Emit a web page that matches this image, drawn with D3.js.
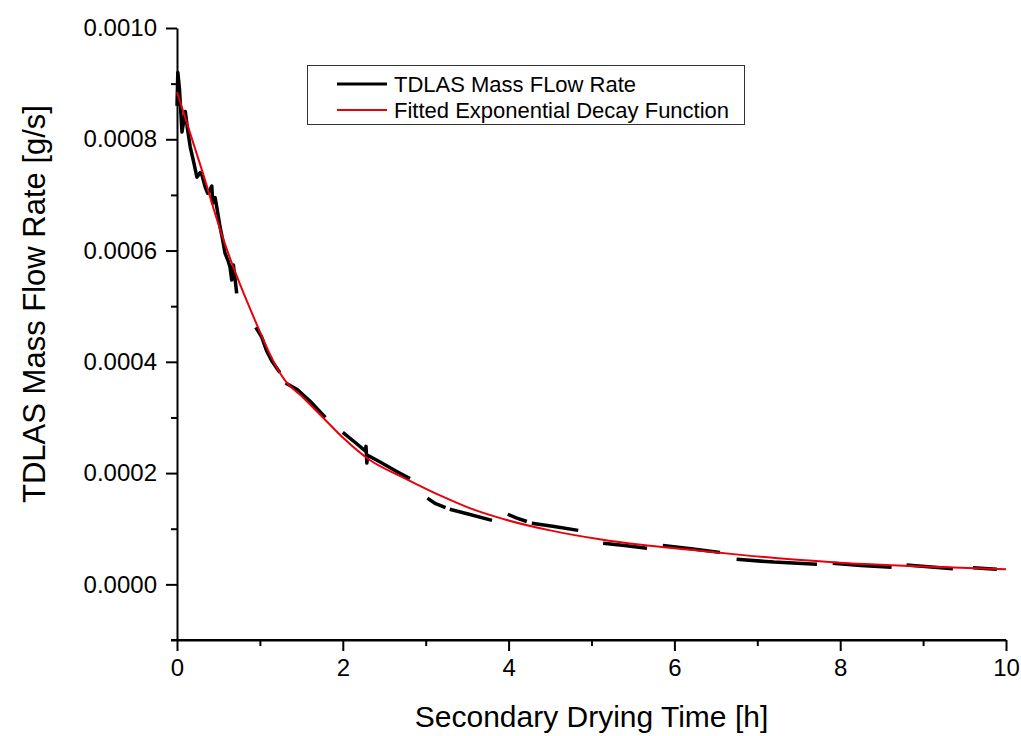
<!DOCTYPE html>
<html>
<head>
<meta charset="utf-8">
<script src="https://cdn.jsdelivr.net/npm/d3@7"></script>
<style>
  html, body { margin: 0; padding: 0; background: #fff; }
  svg { display: block; font-family: "Liberation Sans", Arial, sans-serif; }
</style>
</head>
<body>
<svg id="chart" width="1021" height="736"></svg>
<script>
// Measured TDLAS mass flow rate (h, g/s); null marks a break in the record
const measTime = [
  0.00, 0.01, 0.03, 0.06, 0.10, 0.13, 0.16, 0.20, 0.24, 0.28, 0.30, 0.34, 0.37, 0.40, 0.42, 0.43, 0.46, 0.48, 0.52, 0.55, 0.58, 0.62, 0.64, 0.66, 0.68, 0.70, 0.72,
  null,
  0.95, 1.02, 1.08, 1.15, 1.24,
  null,
  1.31, 1.45, 1.60, 1.79,
  null,
  2.00, 2.15, 2.27, 2.28, 2.29, 2.30, 2.45, 2.65, 2.81,
  null,
  3.02, 3.12, 3.24,
  null,
  3.29, 3.50, 3.80,
  null,
  3.99, 4.10, 4.22,
  null,
  4.28, 4.55, 4.84,
  null,
  5.14, 5.40, 5.67,
  null,
  5.86, 6.20, 6.55,
  null,
  6.75, 7.20, 7.72,
  null,
  7.91, 8.25, 8.62,
  null,
  8.80, 9.10, 9.36,
  null,
  9.60, 9.89
];
const measRate = [
  0.000860, 0.000920, 0.000890, 0.000813, 0.000850, 0.000815, 0.000786, 0.000760, 0.000732, 0.000740, 0.000736, 0.000714, 0.000703, 0.000710, 0.000716, 0.000685, 0.000695, 0.000678, 0.000642, 0.000620, 0.000595, 0.000580, 0.000570, 0.000547, 0.000574, 0.000550, 0.000523,
  null,
  0.000462, 0.000445, 0.000420, 0.000400, 0.000381,
  null,
  0.000362, 0.000350, 0.000330, 0.000300,
  null,
  0.000273, 0.000255, 0.000240, 0.000248, 0.000218, 0.000232, 0.000220, 0.000203, 0.000190,
  null,
  0.000155, 0.000145, 0.000138,
  null,
  0.000135, 0.000127, 0.000115,
  null,
  0.000126, 0.000119, 0.000113,
  null,
  0.000110, 0.000104, 0.000097,
  null,
  0.000074, 0.000070, 0.000065,
  null,
  0.000070, 0.000064, 0.0000575,
  null,
  0.000045, 0.000040, 0.000036,
  null,
  0.0000378, 0.0000340, 0.0000306,
  null,
  0.000035, 0.000031, 0.000028,
  null,
  0.0000300, 0.0000270
];

// Fitted exponential decay curve (h, g/s)
const fitTime = [0, 0.30, 0.55, 0.88, 1.30, 1.52, 1.76, 2.00, 2.33, 2.73, 3.20, 3.53, 3.90, 4.50, 5.10, 5.60, 6.20, 6.80, 7.40, 8.00, 9.00, 10.00];
const fitRate = [0.000885, 0.000745, 0.000624, 0.000496, 0.000367, 0.000336, 0.000300, 0.000264, 0.000223, 0.000192, 0.000158, 0.000137, 0.000119, 0.000097, 0.000081, 0.000071, 0.000062, 0.000053, 0.000045, 0.000039, 0.000032, 0.000027];

// Axis ticks
const xMajorTicks = [0, 2, 4, 6, 8, 10];
const xMinorTicks = [1, 3, 5, 7, 9];
const yMajorTicks = [0, 0.0002, 0.0004, 0.0006, 0.0008, 0.0010];
const yMinorTicks = [-0.0001, 0.0001, 0.0003, 0.0005, 0.0007, 0.0009];

const seriesNames = ["TDLAS Mass FLow Rate", "Fitted Exponential Decay Function"];
const seriesColors = ["#000000", "#e8000b"];

const svg = d3.select("#chart");
const plotLeft = 177, plotRight = 1006, plotTop = 28, plotBottom = 640;

const x = d3.scaleLinear().domain([0, 10]).range([plotLeft, plotRight]);
const y = d3.scaleLinear().domain([-0.0001, 0.0010]).range([plotBottom, plotTop]);

// Minor ticks
svg.append("g")
  .attr("transform", `translate(0,${plotBottom})`)
  .call(d3.axisBottom(x).tickValues(xMinorTicks).tickSize(6).tickFormat(""))
  .call(g => g.select(".domain").remove());
svg.append("g")
  .attr("transform", `translate(${plotLeft},0)`)
  .call(d3.axisLeft(y).tickValues(yMinorTicks).tickSize(6).tickFormat(""))
  .call(g => g.select(".domain").remove());

// Major ticks with labels
const xAxis = svg.append("g")
  .attr("transform", `translate(0,${plotBottom})`)
  .call(d3.axisBottom(x).tickValues(xMajorTicks).tickSize(11).tickPadding(8).tickSizeOuter(0)
    .tickFormat(d3.format("d")));
const yAxis = svg.append("g")
  .attr("transform", `translate(${plotLeft},0)`)
  .call(d3.axisLeft(y).tickValues(yMajorTicks).tickSize(11).tickPadding(9).tickSizeOuter(0)
    .tickFormat(d3.format(".4f")));

svg.selectAll("g line").attr("stroke", "#000").attr("stroke-width", 2);
svg.selectAll("g .domain").attr("stroke", "#000").attr("stroke-width", 2);
[xAxis, yAxis].forEach(g => {
  g.selectAll("text").attr("font-size", 24).attr("fill", "#000")
    .attr("font-family", "'Liberation Sans', Arial, sans-serif");
});

// Extend x axis line to the lowest minor y tick
svg.append("line")
  .attr("x1", plotLeft - 6).attr("x2", plotRight)
  .attr("y1", plotBottom).attr("y2", plotBottom)
  .attr("stroke", "#000").attr("stroke-width", 2);

// Measured series
const measured = measTime.map((t, i) => ({ t, v: measRate[i] }));
const line = d3.line()
  .defined(d => d.t !== null && d.v !== null)
  .x(d => x(d.t)).y(d => y(d.v));

svg.append("path")
  .datum(measured)
  .attr("fill", "none")
  .attr("stroke", seriesColors[0])
  .attr("stroke-width", 3.5)
  .attr("stroke-linejoin", "round")
  .attr("d", line);

// Fitted curve
const fitted = fitTime.map((t, i) => ({ t, v: fitRate[i] }));
svg.append("path")
  .datum(fitted)
  .attr("fill", "none")
  .attr("stroke", seriesColors[1])
  .attr("stroke-width", 2)
  .attr("d", d3.line().x(d => x(d.t)).y(d => y(d.v)).curve(d3.curveMonotoneX));

// Legend
const legend = svg.append("g");
legend.append("rect")
  .attr("x", 307.5).attr("y", 65.5).attr("width", 437).attr("height", 59)
  .attr("fill", "#fff").attr("stroke", "#333").attr("stroke-width", 1);
seriesNames.forEach((name, i) => {
  const cy = 84 + i * 26;
  legend.append("line")
    .attr("x1", 337).attr("x2", 387).attr("y1", cy).attr("y2", cy)
    .attr("stroke", seriesColors[i]).attr("stroke-width", i === 0 ? 3 : 2);
  legend.append("text")
    .attr("x", 394).attr("y", cy).attr("dy", "0.35em")
    .attr("font-size", 22).attr("fill", "#000")
    .text(name);
});

// Axis titles
svg.append("text")
  .attr("x", (plotLeft + plotRight) / 2).attr("y", 727)
  .attr("text-anchor", "middle").attr("font-size", 30).attr("fill", "#000")
  .text("Secondary Drying Time [h]");
svg.append("text")
  .attr("transform", `translate(45,304) rotate(-90)`)
  .attr("text-anchor", "middle").attr("font-size", 31).attr("fill", "#000")
  .text("TDLAS Mass Flow Rate [g/s]");
</script>
</body>
</html>
